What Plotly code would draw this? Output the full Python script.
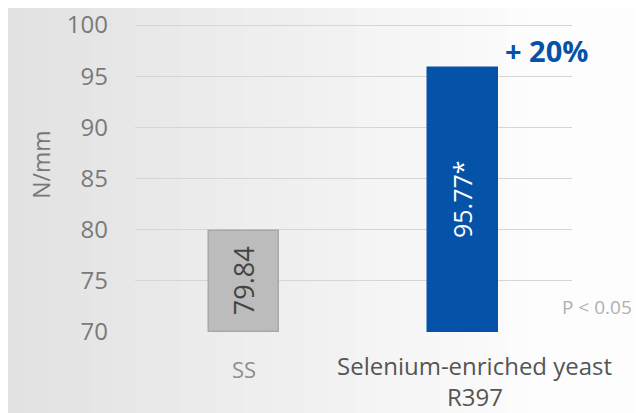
import plotly.graph_objects as go

categories = ["SS", "Selenium-enriched yeast R397"]
values = [79.84, 95.77]
bar_labels = ["79.84", "95.77*"]
tick_vals = [70, 75, 80, 85, 90, 95, 100]
y_title = "N/mm"
x_label_lines = ["SS", "Selenium-enriched yeast", "R397"]
increase_text = "+ 20%"
p_text = "P < 0.05"

# The page has an 8px body margin, so the figure is drawn 8px in from the
# window corner; size it so that it ends at the window's 643x413 edge.
OFF = 8
W, H = 643 - OFF, 413 - OFF
PL, PR, PT, PB = 134.5, 572.5, 13, 332   # plot area in window pixels
Y_TOP = 70 + (PB - PT) / ((332 - 25) / 30)  # 100 sits at window y=25


def px(x):
    return (x - PL) / (PR - PL)


def py(y):
    return (PB - y) / (PB - PT)


fig = go.Figure()
fig.add_trace(go.Bar(
    x=categories, y=[v - 70 for v in values], base=70,
    width=0.32,
    marker=dict(color=["#bcbcbc", "#0553a8"],
                line=dict(color=["#a8a8a8", "#0553a8"], width=1.5)),
    text=bar_labels, textposition="inside", textangle=-90,
    insidetextanchor="middle",
    textfont=dict(family="Open Sans", size=[27, 25], color=["#444444", "#ffffff"]),
    hoverinfo="skip",
))

# background gradient strips
n = 32
for i in range(n):
    t = i / (n - 1)
    c = int(226 + (253 - 226) * min(1, t * 1.3))
    fig.add_shape(type="rect", xref="paper", yref="paper",
                  x0=-0.3 + i * 1.6 / n, x1=-0.3 + (i + 1) * 1.6 / n + 0.003,
                  y0=-0.3, y1=1.1,
                  fillcolor=f"rgb({c},{c},{c})", line_width=0, layer="below")

fig.update_layout(
    width=W, height=H,
    margin=dict(l=PL - OFF, r=W - (PR - OFF), t=PT - OFF, b=H - (PB - OFF), autoexpand=False),
    paper_bgcolor="#f0f0f0", plot_bgcolor="rgba(0,0,0,0)",
    showlegend=False, bargap=0,
    xaxis=dict(range=[-0.5, 1.5], showticklabels=False, showgrid=False,
               zeroline=False, showline=False, automargin=False),
    yaxis=dict(range=[70, Y_TOP], tickvals=tick_vals, showgrid=True, automargin=False,
               gridcolor="#d6d6d6", gridwidth=1, zeroline=False, showline=False,
               ticks="", ticklen=0, ticklabelstandoff=26, ticklabeloverflow="allow",
               tickfont=dict(family="Open Sans", size=24, color="#7a7a7a")),
)

common = dict(xref="paper", yref="paper", xanchor="center", yanchor="middle",
              showarrow=False)
fig.add_annotation(x=px(40), y=py(165), text=y_title, textangle=-90,
                   font=dict(family="Open Sans", size=23, color="#777777"), **common)
fig.add_annotation(x=px(244), y=py(369), text=x_label_lines[0],
                   font=dict(family="Open Sans", size=22, color="#8f8f8f"), **common)
fig.add_annotation(x=px(475), y=py(366), text=x_label_lines[1],
                   font=dict(family="Open Sans", size=24, color="#555555"), **common)
fig.add_annotation(x=px(475), y=py(396), text=x_label_lines[2],
                   font=dict(family="Open Sans", size=24, color="#555555"), **common)
fig.add_annotation(x=px(547), y=py(50), text=f"<b>{increase_text}</b>",
                   font=dict(family="Open Sans", size=29, color="#0553a8"), **common)
fig.add_annotation(x=px(598), y=py(307), text=p_text,
                   font=dict(family="Open Sans", size=19, color="#b0b0b0"), **common)

fig.write_html("out.html")
